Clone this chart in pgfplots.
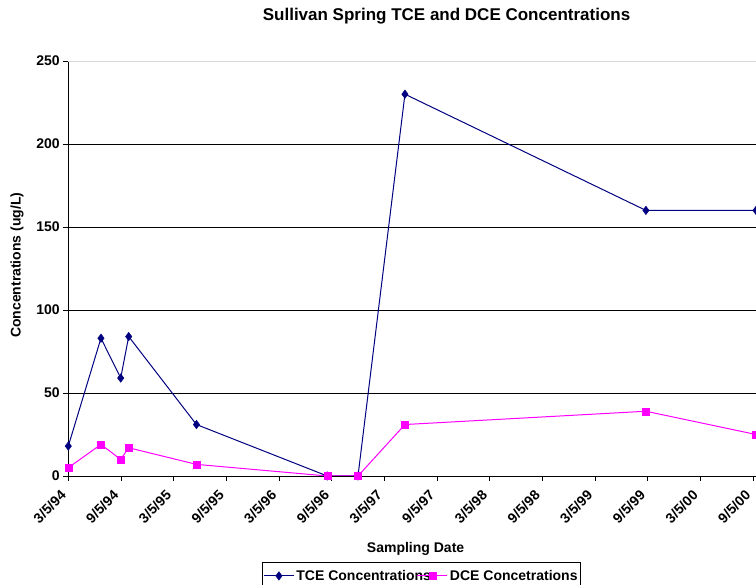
\documentclass[border=0pt]{standalone}
\usepackage{pgfplots}
\pgfplotsset{compat=1.18}
\usepackage{fontspec}
\setmainfont{Liberation Sans}
\definecolor{tcecol}{RGB}{0,0,128}
\definecolor{dcecol}{RGB}{255,0,255}
\begin{document}
\begin{tikzpicture}[x=1pt,y=1pt]
\begin{axis}[
  at={(0pt,0pt)}, anchor=south west,
  scale only axis,
  width=687.7pt, height=415pt,
  xmin=0, xmax=78.34,
  ymin=0, ymax=250,
  axis x line*=bottom,
  axis y line*=left,
  axis line style={black, line width=0.9pt},
  xtick={0,6,...,78},
  xticklabels={3/5/94,9/5/94,3/5/95,9/5/95,3/5/96,9/5/96,3/5/97,9/5/97,3/5/98,9/5/98,3/5/99,9/5/99,3/5/00,9/5/00},
  ytick={0,50,100,150,200},
  extra y ticks={250},
  extra y tick style={major grid style={gray!30, line width=0.9pt}},
  ymajorgrids,
  major grid style={black, line width=0.8pt},
  tick align=outside,
  major tick length=5pt,
  tick style={black, line width=0.8pt},
  /pgf/number format/assume math mode=true,
  ticklabel style={font=\bfseries\fontsize{14}{16}\selectfont},
  xticklabel style={yshift=-9.5pt, xshift=-2.5pt, rotate=45, anchor=east},
  title={Sullivan Spring TCE and DCE Concentrations},
  title style={at={(axis description cs:0.55,1.083)}, anchor=base, font=\bfseries\fontsize{17}{20}\selectfont},
  xlabel={Sampling Date},
  xlabel style={at={(axis description cs:0.505,-0.1855)}, anchor=base, font=\bfseries\fontsize{14}{16}\selectfont},
  ylabel={Concentrations (ug/L)},
  ylabel style={at={(axis description cs:-0.0746,0.508)}, anchor=center, font=\bfseries\fontsize{14}{16}\selectfont},
  legend columns=2,
  legend image code/.code={\draw[mark repeat=2,mark phase=2,#1] plot coordinates {(0pt,0pt)(15pt,0pt)(30pt,0pt)};},
  legend style={at={(axis description cs:0.2817,-0.2065)}, anchor=north west,
    draw=black, line width=0.8pt, inner xsep=1pt, inner ysep=6pt,
    font=\bfseries\fontsize{14}{16}\selectfont,
    /tikz/every even column/.append style={column sep=-16pt}},
]
\addplot[tcecol, line width=1pt, mark=diamond*, mark size=4.2pt, mark options={solid, fill=tcecol, draw=tcecol, line width=0.5pt}]
  coordinates {(0,18) (3.72,83) (5.97,59) (6.88,84) (14.6,31) (29.5,0) (33.0,0) (38.35,230) (65.8,160) (78.34,160)};
\addlegendentry{TCE Concentrations}
\addplot[dcecol, line width=1pt, mark=square*, mark size=3.6pt, mark options={solid, fill=dcecol, draw=dcecol, line width=0.3pt}]
  coordinates {(0,5) (3.72,19) (5.97,10) (6.88,17) (14.6,7) (29.5,0) (33.0,0) (38.35,31) (65.8,39) (78.34,25)};
\addlegendentry{DCE Concetrations}
\end{axis}
\pgfresetboundingbox
\path[use as bounding box] (-68.3pt,-109pt) rectangle (687.7pt,476pt);
\end{tikzpicture}
\end{document}
